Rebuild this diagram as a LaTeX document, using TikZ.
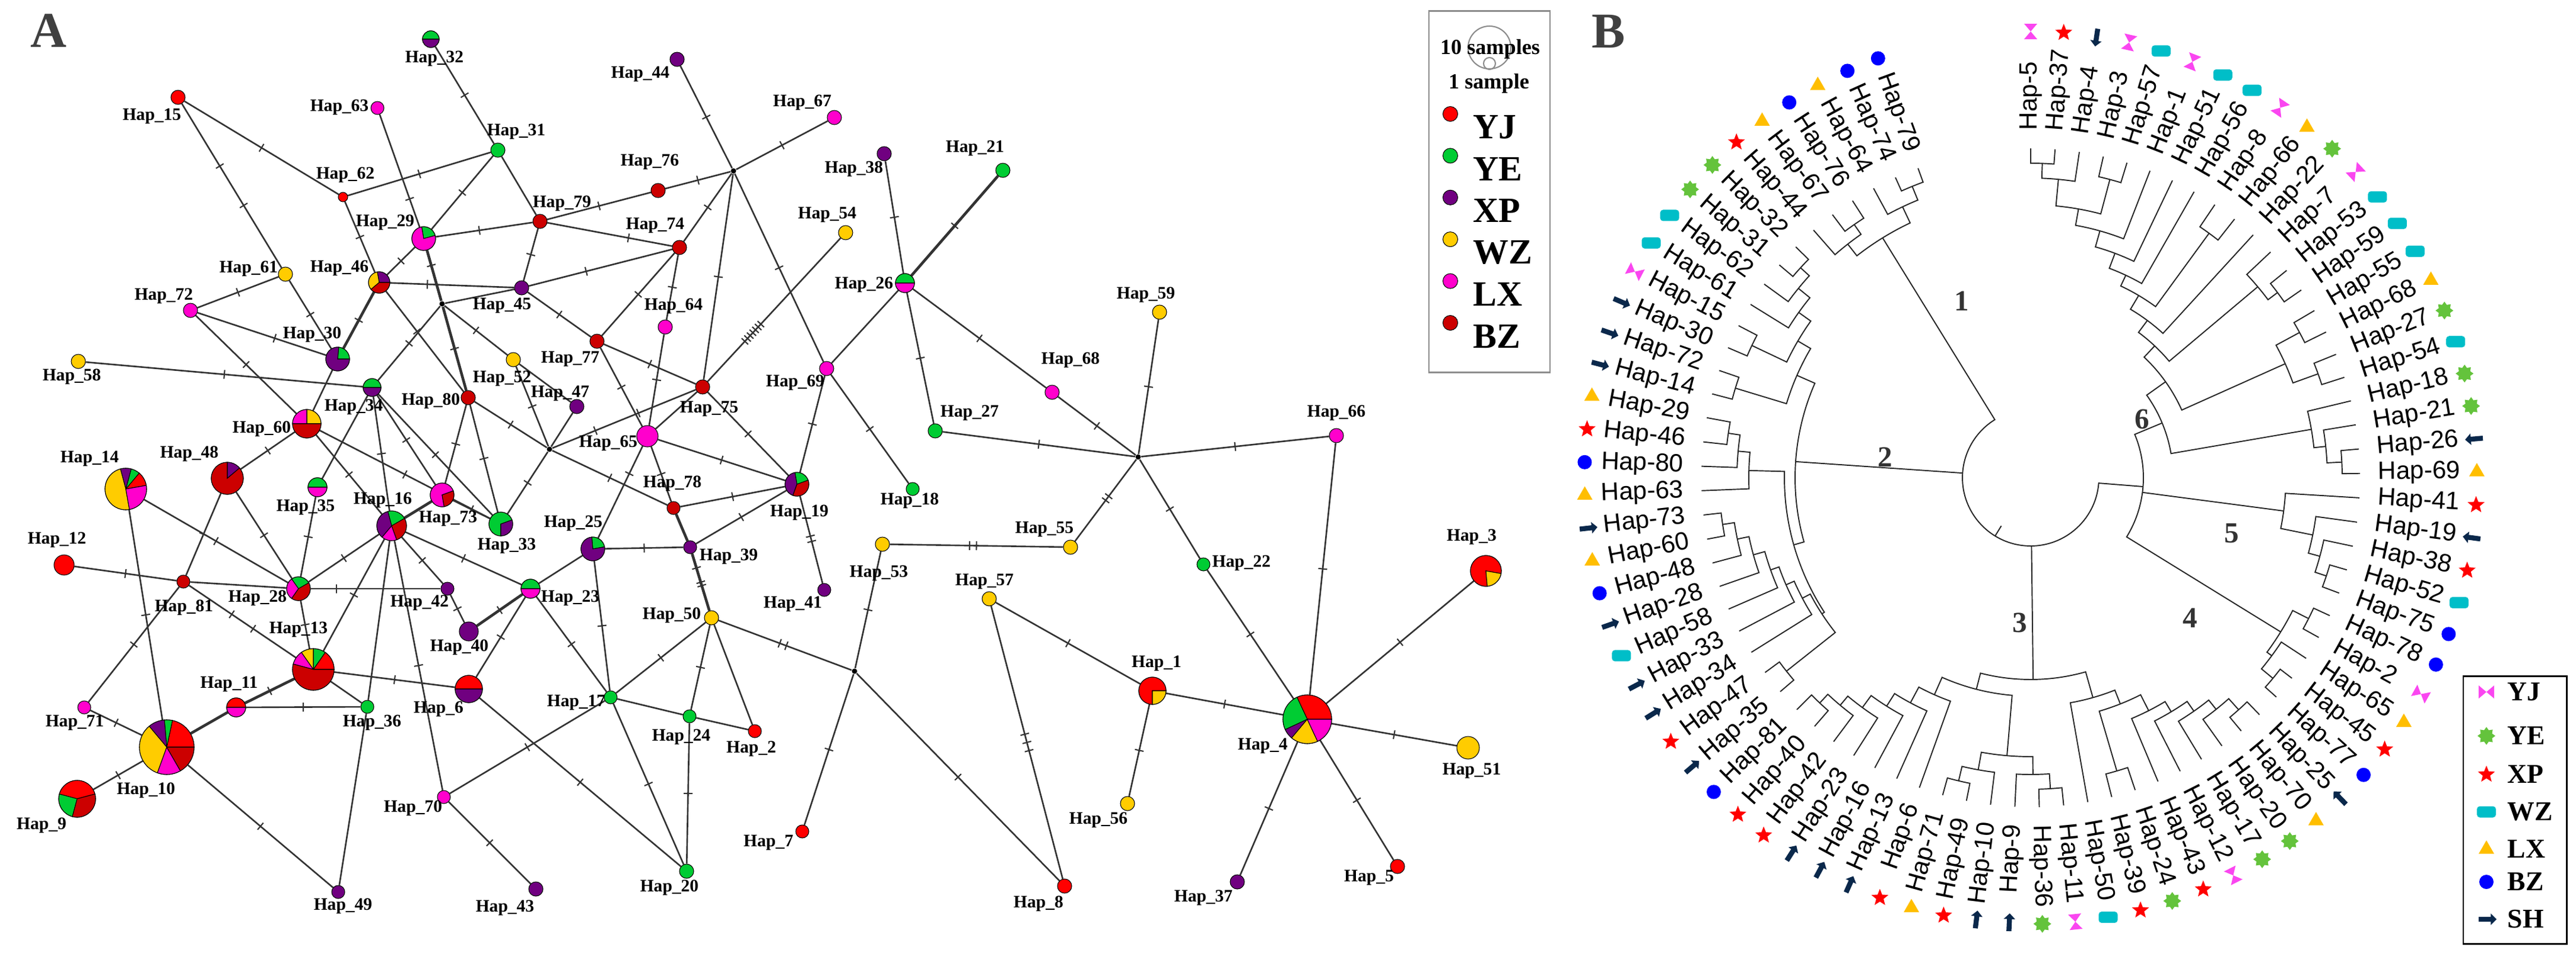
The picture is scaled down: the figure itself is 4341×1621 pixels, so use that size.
\documentclass[tikz,border=0pt]{standalone}
\usepackage{fontspec}
\setmainfont{Liberation Serif}
\newfontfamily\arialfont{Liberation Sans}
\usetikzlibrary{shapes.geometric,shapes.arrows,backgrounds}

% population colours of the network
\definecolor{cYJ}{RGB}{255,0,0}
\definecolor{cYE}{RGB}{0,204,51}
\definecolor{cXP}{RGB}{112,0,128}
\definecolor{cWZ}{RGB}{255,204,0}
\definecolor{cLX}{RGB}{255,0,204}
\definecolor{cBZ}{RGB}{204,0,0}
% marks of the tree
\definecolor{mYJ}{RGB}{250,70,240}
\definecolor{mYE}{RGB}{100,195,60}
\definecolor{mXP}{RGB}{255,0,0}
\definecolor{mWZ}{RGB}{0,190,200}
\definecolor{mLX}{RGB}{255,190,0}
\definecolor{mBZ}{RGB}{0,0,255}
\definecolor{mSH}{RGB}{10,40,75}

\newcommand{\symrot}{0}
\newcommand{\symyj}[1]{\fill[mYJ, shift={(#1)}, rotate=\symrot] (-13,11) -- (0,0) -- (13,11) -- (13,-11) -- (0,0) -- (-13,-11) -- cycle;}
\newcommand{\symye}[1]{\node[burst] at (#1) {};}
\newcommand{\symxp}[1]{\node[redstar] at (#1) {};}
\newcommand{\symwz}[1]{\node[wzbox] at (#1) {};}
\newcommand{\symlx}[1]{\node[tri] at (#1) {};}
\newcommand{\symbz}[1]{\node[bzdot] at (#1) {};}
\newcommand{\symsh}[1]{\node[sharrow, rotate=\symrot+180] at (#1) {};}
\newcommand{\hpie}[3]{\foreach \s/\e/\c in {#3}{\filldraw[fill=\c, draw=black, line width=0.3pt] (h#1.center) -- ++(\s:#2) arc[start angle=\s, end angle=\e, radius=#2] -- cycle;}}

\begin{document}
\begin{tikzpicture}[x=0.01cm, y=0.01cm,
    hap/.style = {circle, draw=black, line width=0.3pt, inner sep=0pt, minimum size=#1*0.02cm},
    med/.style = {circle, fill=black, inner sep=0pt, minimum size=0.09cm},
    netline/.style = {draw=black!80, line width=0.75pt},
    heavy/.style = {line width=1.3pt},
    mut/.style = {sloped, draw=black!80, line width=0.6pt, inner sep=0pt, outer sep=0pt, minimum width=0pt, minimum height=0.15cm},
    lab/.style = {font=\bfseries\fontsize{8.4}{10}\selectfont, inner sep=0pt},
    leaf/.style = {font=\arialfont\fontsize{12}{14}\selectfont, inner sep=0pt},
    twig/.style = {draw=black!85, line width=0.55pt},
    burst/.style = {star, star points=8, star point ratio=1.45, fill=mYE, inner sep=0pt, minimum size=0.3cm},
    redstar/.style = {star, star points=5, star point ratio=2.3, fill=mXP, inner sep=0pt, minimum size=0.3cm},
    wzbox/.style = {rectangle, rounded corners=0.05cm, fill=mWZ, inner sep=0pt, minimum width=0.32cm, minimum height=0.19cm},
    tri/.style = {regular polygon, regular polygon sides=3, fill=mLX, inner sep=0pt, minimum size=0.3cm},
    bzdot/.style = {circle, fill=mBZ, inner sep=0pt, minimum size=0.24cm},
    sharrow/.style = {single arrow, fill=mSH, inner sep=0.035cm, minimum height=0.3cm, minimum width=0.18cm, single arrow head extend=0.055cm},
    cladeno/.style = {font=\bfseries\fontsize{14}{16}\selectfont, text=black!80},
    panel/.style = {font=\bfseries\fontsize{24}{28}\selectfont, text=black!75},
    legtext/.style = {font=\bfseries\fontsize{17}{20}\selectfont, inner sep=0pt},
    legsmall/.style = {font=\bfseries\fontsize{10.3}{12}\selectfont, inner sep=0pt},
    legb/.style = {font=\bfseries\fontsize{13}{15}\selectfont, inner sep=0pt}]
\useasboundingbox (0,0) rectangle (4341,-1621);

\node[panel] (pa) at (82,-52) {A};
\node[panel] (pb) at (2711,-53) {B};

% haplotypes of one population
\foreach \n/\x/\y/\r/\c in {15/300/164/12/cYJ, 63/636/182/11/cLX, 31/839/253/12/cYE, 62/578/332/8/cYJ,
    79/910/373/12/cBZ, 61/481/462/12/cWZ, 45/879/485/12/cXP, 72/321/523/12/cLX, 77/1006/575/12/cBZ,
    52/865/606/12/cWZ, 58/132/609/12/cWZ, 80/789/670/12/cBZ, 47/972/685/12/cXP, 44/1141/100/12/cXP,
    67/1406/198/12/cLX, 76/1109/321/12/cBZ, 74/1145/417/12/cBZ, 54/1425/392/12/cWZ, 38/1490/259/12/cXP,
    21/1690/287/12/cYE, 59/1954/526/12/cWZ, 64/1121/551/12/cLX, 75/1184/652/12/cBZ, 69/1393/621/12/cLX,
    68/1773/661/12/cLX, 27/1576/726/12/cYE, 66/2252/734/12/cLX, 65/1091/735/18/cLX, 12/108/952/17/cYJ,
    81/309/980/11/cBZ, 42/754/992/11/cXP, 40/790/1064/16/cXP, 36/619/1191/11/cYE, 71/142/1192/11/cLX,
    70/748/1343/11/cLX, 49/570/1503/11/cXP, 78/1135/856/11/cBZ, 18/1538/824/11/cYE, 39/1163/922/11/cXP,
    53/1487/917/12/cWZ, 41/1389/994/11/cXP, 50/1199/1041/12/cWZ, 17/1029/1175/11/cYE, 24/1162/1207/11/cYE,
    2/1272/1232/11/cYJ, 7/1352/1401/11/cYJ, 20/1157/1468/12/cYE, 43/903/1498/12/cXP, 55/1804/922/12/cWZ,
    22/2028/951/11/cYE, 57/1667/1009/12/cWZ, 56/1900/1354/12/cWZ, 8/1794/1493/12/cYJ, 37/2085/1486/12/cXP,
    5/2355/1460/12/cYJ, 51/2474/1260/19/cWZ}
    \node[hap=\r, fill=\c] (h\n) at (\x,-\y) {};

% shared haplotypes
\foreach \n/\x/\y/\r in {32/726/66/14, 29/714/402/20, 46/639/476/18, 30/569/605/20, 34/627/653/15,
    60/517/714/24, 14/212/824/35, 48/383/806/27, 35/535/821/16, 16/660/886/25, 73/745/834/20,
    33/844/883/20, 28/503/992/20, 13/528/1128/35, 6/790/1161/23, 11/398/1192/16, 10/281/1259/46,
    9/130/1346/31, 25/999/925/20, 23/894/992/16, 19/1343/816/20, 26/1525/477/16, 3/2504/962/26,
    1/1942/1164/23, 4/2203/1212/41}
    \node[hap=\r] (h\n) at (\x,-\y) {};

\node[med] (m1) at (745,-512) {};
\node[med] (m2) at (926,-757) {};
\node[med] (m3) at (1236,-288) {};
\node[med] (m4) at (1918,-770) {};
\node[med] (m5) at (1440,-1131) {};

\hpie{32}{14}{0/180/cYE, 180/360/cXP}
\hpie{29}{20}{15/100/cYE, 100/375/cLX}
\hpie{46}{18}{0/100/cXP, 100/220/cWZ, 220/360/cBZ}
\hpie{30}{20}{0/85/cYE, 85/360/cXP}
\hpie{34}{15}{0/180/cYE, 180/360/cXP}
\hpie{60}{24}{0/90/cWZ, 90/180/cLX, 180/360/cBZ}
\hpie{14}{35}{10/50/cYJ, 50/75/cYE, 75/105/cXP, 105/280/cWZ, 280/370/cLX}
\hpie{48}{27}{40/90/cXP, 90/400/cBZ}
\hpie{35}{16}{0/180/cYE, 180/360/cLX}
\hpie{16}{25}{30/105/cYE, 105/230/cXP, 230/290/cLX, 290/390/cBZ}
\hpie{73}{20}{20/280/cLX, 280/380/cBZ}
\hpie{33}{20}{20/270/cYE, 270/380/cXP}
\hpie{28}{20}{30/125/cYE, 125/235/cLX, 235/390/cBZ}
\hpie{13}{35}{0/55/cYJ, 55/90/cYE, 90/125/cWZ, 125/165/cLX, 165/360/cBZ}
\hpie{6}{23}{0/180/cYJ, 180/360/cXP}
\hpie{11}{16}{0/180/cYJ, 180/360/cLX}
\hpie{10}{46}{0/78/cYJ, 78/95/cYE, 95/130/cXP, 130/250/cWZ, 250/300/cLX, 300/360/cBZ}
\hpie{9}{31}{15/165/cYJ, 165/255/cYE, 255/375/cBZ}
\hpie{25}{20}{10/95/cYE, 95/370/cXP}
\hpie{23}{16}{0/180/cYE, 180/360/cLX}
\hpie{19}{20}{20/100/cYE, 100/250/cXP, 250/380/cBZ}
\hpie{26}{16}{0/180/cYE, 180/360/cLX}
\hpie{3}{26}{-10/275/cYJ, 275/350/cWZ}
\hpie{1}{23}{0/270/cYJ, 270/360/cWZ}
\hpie{4}{41}{0/115/cYJ, 115/205/cYE, 205/230/cXP, 230/295/cWZ, 295/360/cLX}

% names of the haplotypes
\foreach \n/\x/\y in {15/256/196, 63/572/181, 31/870/222, 62/582/295, 79/947/343, 29/649/375, 61/419/453,
    46/572/452, 45/846/515, 72/276/499, 30/526/564, 77/961/605, 52/846/638, 58/121/635, 34/596/686,
    80/726/676, 47/944/663, 60/441/723, 65/1025/747, 14/151/773, 48/319/765, 32/732/99, 44/1079/125,
    67/1352/173, 76/1095/273, 74/1104/380, 54/1394/362, 38/1439/285, 21/1643/250, 26/1456/480,
    59/1931/497, 64/1135/516, 75/1195/689, 69/1340/645, 68/1804/607, 27/1634/696, 66/2252/696,
    35/515/855, 16/645/843, 73/755/874, 12/96/910, 81/310/1024, 28/434/1008, 42/707/1016, 40/774/1091,
    13/503/1061, 6/739/1195, 11/386/1153, 36/627/1218, 71/126/1218, 10/246/1332, 9/70/1391, 70/696/1362,
    49/578/1527, 43/851/1530, 78/1133/815, 19/1347/864, 18/1533/844, 33/854/920, 25/966/882, 39/1228/938,
    53/1481/966, 41/1336/1018, 23/961/1008, 50/1132/1037, 17/971/1184, 24/1148/1242, 2/1266/1262,
    7/1295/1420, 20/1128/1496, 55/1760/892, 22/2092/949, 57/1659/980, 3/2480/905, 1/1949/1118,
    4/2128/1257, 51/2480/1299, 56/1851/1382, 8/1750/1523, 37/2028/1513, 5/2307/1479}
    \node[lab] (l\n) at (\x,-\y) {Hap\_\n};

\begin{pgfonlayer}{background}
\draw[netline] (h32) -- node[mut] {} (h31);
\draw[netline] (h15) -- node[mut] {} (h62);
\draw[netline] (h15) -- node[mut, pos=.38] {} node[mut, pos=.62] {} (h61);
\draw[netline] (h61) -- node[mut] {} (h30);
\draw[netline] (h63) -- node[mut, pos=.75] {} (h29);
\draw[netline] (h62) -- node[mut] {} (h31);
\draw[netline] (h62) -- node[mut] {} (h46);
\draw[netline] (h46) -- node[mut, pos=.4] {} (h80);
\draw[netline] (h31) -- node[mut] {} (h29);
\draw[netline] (h31) -- (h79);
\draw[netline] (h29) -- node[mut, pos=.45] {} (h79);
\draw[netline] (h79) -- node[mut] {} (h76);
\draw[netline] (h79) -- node[mut] {} (h45);
\draw[netline] (h79) -- node[mut, pos=.65] {} (h74);
\draw[netline] (h29) -- node[mut] {} (h46);
\draw[netline, heavy] (h29) -- node[mut, pos=.3] {} (m1);
\draw[netline, heavy] (m1) -- node[mut] {} (h80);
\draw[netline] (m1) -- (h45);
\draw[netline] (m1) -- node[mut] {} (h52);
\draw[netline] (m1) -- node[mut] {} (h34);
\draw[netline] (h46) -- node[mut, pos=.3] {} (h45);
\draw[netline] (h45) -- node[mut, pos=.4] {} (h74);
\draw[netline] (h45) -- node[mut] {} (h77);
\draw[netline] (h77) -- node[mut] {} (h74);
\draw[netline] (h77) -- node[mut] {} (h75);
\draw[netline] (h77) -- node[mut] {} (h65);
\draw[netline] (h61) -- node[mut] {} (h72);
\draw[netline] (h72) -- node[mut, pos=.6] {} (h30);
\draw[netline] (h72) -- node[mut] {} (h60);
\draw[netline, heavy] (h46) -- node[mut] {} (h30);
\draw[netline] (h30) -- (h60);
\draw[netline] (h58) -- node[mut] {} (h34);
\draw[netline] (h52) -- (h47);
\draw[netline] (h52) -- node[mut] {} (m2);
\draw[netline] (h47) -- (m2);
\draw[netline] (h80) -- node[mut] {} (m2);
\draw[netline] (h80) -- node[mut] {} (h73);
\draw[netline] (h80) -- node[mut] {} (h33);
\draw[netline] (m2) -- node[mut, pos=.3] {} node[mut, pos=.6] {} (h75);
\draw[netline] (m2) -- node[mut] {} (h33);
\draw[netline] (m2) -- node[mut] {} (h78);
\draw[netline] (h44) -- node[mut] {} (m3);
\draw[netline] (h67) -- node[mut] {} (m3);
\draw[netline] (h76) -- node[mut] {} (m3);
\draw[netline] (m3) -- node[mut] {} (h74);
\draw[netline] (m3) -- node[mut] {} (h75);
\draw[netline] (m3) -- node[mut] {} (h69);
\draw[netline] (h69) -- node[mut] {} (h18);
\draw[netline] (h69) -- (h26);
\draw[netline] (h69) -- node[mut] {} (h19);
\draw[netline] (h54) -- node[mut, pos=.60] {} node[mut, pos=.62] {} node[mut, pos=.64] {} node[mut, pos=.66] {}
    node[mut, pos=.68] {} node[mut, pos=.70] {} node[mut, pos=.72] {} (h75);
\draw[netline] (h75) -- (h65);
\draw[netline] (h74) -- node[mut] {} (h64);
\draw[netline] (h64) -- node[mut] {} (h65);
\draw[netline] (h65) -- node[mut] {} (h19);
\draw[netline] (h75) -- node[mut] {} (h19);
\draw[netline] (h38) -- node[mut] {} (h26);
\draw[netline, heavy] (h21) -- node[mut] {} (h26);
\draw[netline] (h26) -- node[mut] {} (h27);
\draw[netline] (h26) -- node[mut] {} (h68);
\draw[netline] (h68) -- node[mut] {} (m4);
\draw[netline] (h27) -- node[mut] {} (m4);
\draw[netline] (h59) -- node[mut] {} (m4);
\draw[netline] (h66) -- node[mut] {} (m4);
\draw[netline] (h66) -- node[mut] {} (h4);
\draw[netline] (m4) -- node[mut, pos=.45] {} node[mut, pos=.5] {} (h55);
\draw[netline] (m4) -- node[mut] {} (h22);
\draw[netline] (h22) -- node[mut] {} (h4);
\draw[netline] (h3) -- node[mut] {} (h4);
\draw[netline] (h1) -- node[mut] {} (h4);
\draw[netline] (h51) -- node[mut] {} (h4);
\draw[netline] (h5) -- node[mut] {} (h4);
\draw[netline] (h37) -- node[mut] {} (h4);
\draw[netline] (h57) -- node[mut] {} (h1);
\draw[netline] (h1) -- node[mut] {} (h56);
\draw[netline] (h57) -- node[mut, pos=.47] {} node[mut] {} node[mut, pos=.53] {} (h8);
\draw[netline] (m5) -- node[mut] {} (h8);
\draw[netline] (h53) -- node[mut, pos=.46] {} node[mut, pos=.5] {} (h55);
\draw[netline] (h53) -- node[mut] {} (m5);
\draw[netline] (m5) -- node[mut] {} (h7);
\draw[netline] (h50) -- node[mut, pos=.46] {} node[mut, pos=.51] {} (m5);
\draw[netline] (h73) -- node[mut] {} (h33);
\draw[netline] (h34) -- node[mut] {} (h33);
\draw[netline] (h60) -- node[mut] {} (h33);
\draw[netline] (h34) -- (h35);
\draw[netline] (h34) -- node[mut] {} (h16);
\draw[netline] (h34) -- node[mut] {} (h73);
\draw[netline] (h60) -- node[mut] {} (h48);
\draw[netline] (h60) -- node[mut] {} (h16);
\draw[netline] (h65) -- node[mut, pos=.3] {} (h25);
\draw[netline] (h65) -- node[mut] {} (h78);
\draw[netline] (h78) -- node[mut] {} (h19);
\draw[netline, heavy] (h78) -- (h39);
\draw[netline] (h39) -- node[mut] {} (h19);
\draw[netline, heavy] (h39) -- node[mut, pos=.25] {} node[mut, pos=.5] {} node[mut, pos=.56] {} (h50);
\draw[netline] (h25) -- node[mut] {} (h39);
\draw[netline] (h25) -- (h23);
\draw[netline] (h25) -- node[mut] {} (h17);
\draw[netline] (h19) -- node[mut, pos=.46] {} node[mut, pos=.52] {} (h41);
\draw[netline] (h16) -- node[mut] {} (h23);
\draw[netline, heavy] (h40) -- node[mut] {} (h23);
\draw[netline] (h6) -- node[mut] {} (h23);
\draw[netline] (h23) -- node[mut] {} (h17);
\draw[netline] (h17) -- node[mut] {} (h50);
\draw[netline] (h17) -- (h24);
\draw[netline] (h17) -- node[mut] {} (h20);
\draw[netline] (h17) -- node[mut] {} (h70);
\draw[netline] (h6) -- node[mut] {} (h20);
\draw[netline] (h24) -- node[mut] {} (h20);
\draw[netline] (h24) -- node[mut] {} (h50);
\draw[netline] (h24) -- (h2);
\draw[netline] (h50) -- (h2);
\draw[netline] (h43) -- node[mut] {} (h70);
\draw[netline] (h14) -- node[mut] {} (h28);
\draw[netline] (h14) -- node[mut] {} (h10);
\draw[netline] (h48) -- node[mut] {} (h81);
\draw[netline] (h48) -- node[mut] {} (h28);
\draw[netline] (h35) -- node[mut] {} (h28);
\draw[netline] (h16) -- node[mut] {} (h28);
\draw[netline, heavy] (h16) -- (h73);
\draw[netline] (h16) -- node[mut] {} (h42);
\draw[netline] (h16) -- node[mut] {} (h13);
\draw[netline] (h16) -- (h36);
\draw[netline] (h16) -- node[mut] {} (h70);
\draw[netline] (h12) -- node[mut] {} (h81);
\draw[netline] (h81) -- (h28);
\draw[netline] (h81) -- node[mut, pos=.4] {} node[mut, pos=.6] {} (h13);
\draw[netline] (h81) -- node[mut] {} (h71);
\draw[netline] (h28) -- node[mut, pos=.2] {} (h42);
\draw[netline] (h28) -- node[mut] {} (h13);
\draw[netline] (h42) -- node[mut] {} (h40);
\draw[netline, heavy] (h13) -- node[mut] {} (h11);
\draw[netline] (h13) -- (h36);
\draw[netline] (h13) -- node[mut] {} (h6);
\draw[netline] (h11) -- node[mut] {} (h36);
\draw[netline, heavy] (h11) -- (h10);
\draw[netline] (h71) -- node[mut] {} (h10);
\draw[netline] (h10) -- node[mut] {} (h9);
\draw[netline] (h10) -- node[mut] {} (h49);
\draw[netline] (h36) -- (h49);
\end{pgfonlayer}

% legend of the network
\node[draw=black!45, line width=0.8pt, minimum width=2.04cm, minimum height=6.08cm, inner sep=0pt] (lega) at (2510,-323) {};
\draw[black!45, line width=0.6pt] (2510,-80) circle[radius=36];
\draw[black!45, line width=0.6pt] (2510,-107) circle[radius=10];
\node[legsmall] (tten) at (2511,-83) {10 samples};
\node[legsmall] (tone) at (2509,-141) {1 sample};
\foreach \t/\c [count=\k] in {YJ/cYJ, YE/cYE, XP/cXP, WZ/cWZ, LX/cLX, BZ/cBZ} {
    \node[hap=12.5, fill=\c] (d\t) at (2444, {-192-(\k-1)*70.4}) {};
    \node[legtext, anchor=west] (t\t) at (2482, {-214-(\k-1)*70.6}) {\t};
}

% tree
\begin{scope}[shift={(3422,-805)}]
\foreach \r/\pa/\ra/\pb/\rb in {530/1/555/2/555, 505/1.5/530/3/555, 520/4/555/5/555, 460/2.25/505/4.5/520,
    432/3.375/460/6/555, 404/4.6875/432/7/555, 377/5.84375/404/8/555, 510/9/555/10/555,
    357/6.921875/377/9.5/510, 330/8.2109/357/11/555, 520/13/555/14/555, 500/12/555/13.5/520,
    305/9.6055/330/12.75/500, 515/15/555/16/555, 515/17/555/18/555, 470/15.5/515/17.5/515,
    279/11.178/305/16.5/470, 525/21/555/22/555, 500/20/555/21.5/525, 480/19/555/20.75/500,
    240/13.839/279/19.875/480,
    525/26/555/27/555, 505/25/555/26.5/525, 485/24/555/25.75/505, 430/23/555/24.875/485,
    525/28/555/29/555, 530/31/555/32/555, 505/30/555/31.5/530, 495/28.5/525/30.75/505,
    190/16.857/240/29.625/495,
    525/33/555/34/555, 500/33.5/525/35/555, 480/34.25/500/36/555, 460/35.125/480/37/555,
    440/36.0625/460/38/555, 515/39/555/40/555, 410/37.03125/440/39.5/515, 385/38.2656/410/41/555,
    525/42/555/43/555, 500/42.5/525/44/555, 525/46/555/47/555, 500/45/555/46.5/525,
    470/43.25/500/45.75/500, 520/53/555/54/555, 500/52/555/53.5/520, 480/51/555/52.75/500,
    455/50/555/51.875/480, 430/49/555/50.9375/455, 400/48/555/49.96875/430, 368/44.5/470/48.984/400,
    340/39.6328/385/46.742/368,
    525/55/555/56/555, 525/62/555/63/555, 505/61/555/62.5/525, 485/60/555/61.75/505,
    465/59/555/60.875/485, 450/58/555/59.9375/465, 435/57/555/58.96875/450, 420/55.5/525/57.984/435,
    515/66/555/67/555, 495/65/555/66.5/515, 475/64/555/65.75/495, 415/56.742/420/64.875/475,
    525/74/555/75/555, 505/73/555/74.5/525, 480/72/555/73.75/505, 520/70/555/71/555,
    455/70.5/520/72.875/480, 520/68/555/69/555, 430/68.5/520/71.6875/455, 397/60.8085/415/70.094/430,
    530/80/555/81/555, 505/79/555/80.5/530, 520/77/555/78/555, 500/76/555/77.5/520,
    475/76.75/500/79.75/505,
    115/23.241/190/78.25/475} {
    \pgfmathsetmacro\angA{90-(\pa-1)*4.25}
    \pgfmathsetmacro\angB{90-(\pb-1)*4.25}
    \draw[twig] (\angA:\ra) -- (\angA:\r) arc[start angle=\angA, end angle=\angB, radius=\r] -- (\angB:\rb);
}
\draw[twig] (-7.48:190) -- (-7.48:430);
\draw[twig] (-89.3:115) -- (-89.3:340);
\draw[twig] (-183.92:115) -- (-183.92:397);
\draw[twig] (-121.4:95) -- (-121.4:115);

\foreach \nm/\pop [count=\i] in {5/yj, 37/xp, 4/sh, 3/yj, 57/wz, 1/yj, 51/wz, 56/wz, 8/yj, 66/lx,
    22/ye, 7/yj, 53/wz, 59/wz, 55/wz, 68/lx, 27/ye, 54/wz, 18/ye, 21/ye, 26/sh, 69/lx, 41/xp, 19/sh,
    38/xp, 52/wz, 75/bz, 78/bz, 2/yj, 65/lx, 45/xp, 77/bz, 25/sh, 70/lx, 20/ye, 17/ye, 12/yj, 43/xp,
    24/ye, 39/xp, 50/wz, 11/yj, 36/ye, 9/sh, 10/sh, 49/xp, 71/lx, 6/xp, 13/sh, 16/sh, 23/sh, 42/xp,
    40/xp, 81/bz, 35/sh, 47/xp, 34/sh, 33/sh, 58/wz, 28/sh, 48/bz, 60/lx, 73/sh, 63/lx, 80/bz, 46/xp,
    29/lx, 14/sh, 72/sh, 30/sh, 15/yj, 61/wz, 62/wz, 31/ye, 32/ye, 44/xp, 67/lx, 76/bz, 64/lx, 74/bz,
    79/bz} {
    \pgfmathsetmacro\angA{90-(\i-1)*4.25}
    \pgfmathsetmacro\symrot{\angA}
    \ifdim\angA pt<-90pt
        \node[leaf, anchor=east, rotate=\angA+180] (b\nm) at (\angA:585) {Hap-\nm};
    \else
        \node[leaf, anchor=west, rotate=\angA] (b\nm) at (\angA:585) {Hap-\nm};
    \fi
    \csname sym\pop\endcsname{\angA:752}
}
\end{scope}

\node[cladeno] (k1) at (3306,-507) {1};
\node[cladeno] (k2) at (3177,-770) {2};
\node[cladeno] (k3) at (3404,-1049) {3};
\node[cladeno] (k4) at (3691,-1041) {4};
\node[cladeno] (k5) at (3761,-899) {5};
\node[cladeno] (k6) at (3610,-706) {6};

% legend of the tree
\node[draw=black, line width=0.8pt, minimum width=1.74cm, minimum height=4.5cm, inner sep=0pt] (legbox) at (4238,-1365) {};
\symyj{4190,-1166}
\symye{4190,-1240}
\symxp{4190,-1305}
\symwz{4190,-1368}
\symlx{4190,-1431}
\symbz{4190,-1486}
\renewcommand{\symrot}{180}
\symsh{4190,-1549}
\foreach \t/\y in {YJ/1166, YE/1240, XP/1305, WZ/1368, LX/1431, BZ/1486, SH/1549}
    \node[legb, anchor=west] (tb\t) at (4225,-\y) {\t};
\end{tikzpicture}
\end{document}
